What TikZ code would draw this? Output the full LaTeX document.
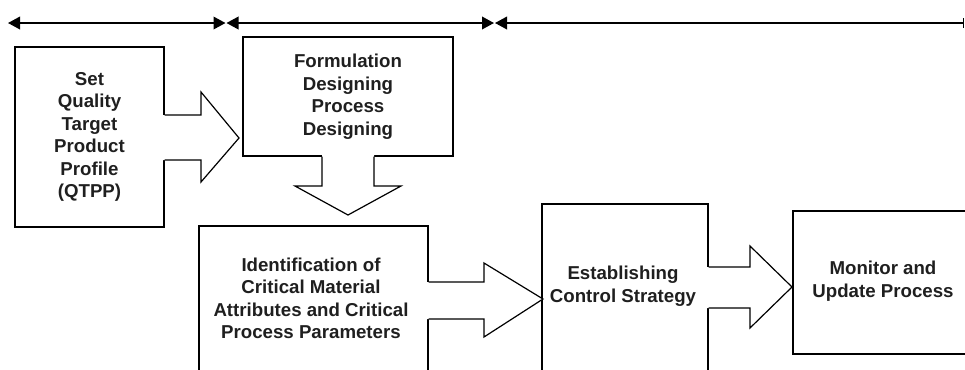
\documentclass[tikz,border=0pt]{standalone}
\usepackage{fontspec}
\setmainfont{Liberation Sans}
\usetikzlibrary{arrows.meta,fit}
\begin{document}
\begin{tikzpicture}[x=0.75pt,y=-0.75pt,
 box/.style={draw, line width=0.9pt, inner sep=0pt},
 lbl/.style={font=\fontsize{14}{16.9}\selectfont\bfseries, align=center, text=black!88, inner sep=0pt},
 blk/.style={line width=0.9pt, line join=miter},
 tri/.style={Triangle[length=9pt,width=9.5pt]},
 span/.style={line width=1.1pt}]
\useasboundingbox (0,0) rectangle (965,369);
\clip (0,0) rectangle (965,369);
% top spans
\coordinate (s0) at (8,23);
\coordinate (s1) at (225.5,23);
\coordinate (s2) at (226.5,23);
\coordinate (s3) at (494,23);
\coordinate (s4) at (495,23);
\coordinate (s5) at (964,23);
\draw[span,{Triangle[length=9pt,width=9.5pt]}-{Triangle[length=9pt,width=9.5pt]}] (s0) -- (s1);
\draw[span,{Triangle[length=9pt,width=9.5pt]}-{Triangle[length=9pt,width=9.5pt]}] (s2) -- (s3);
\draw[span,{Triangle[length=9pt,width=9.5pt]}-{Bar[width=7pt]}] (s4) -- (s5);
% boxes
\node[box, fit={(15,47) (164,227)}] (b1) {};
\node[box, fit={(243,37) (453,156)}] (b2) {};
\node[box, fit={(199,226) (428,420)}] (b3) {};
\node[box, fit={(542,204) (708,420)}] (b4) {};
\node[box, fit={(793,211) (1010,354)}] (b5) {};
% labels
\node[lbl] (t1) at (b1.center) {Set\\Quality\\Target\\Product\\Profile\\(QTPP)};
\node[lbl] (t2) at (b2.center) {Formulation\\Designing\\Process\\Designing};
\node[lbl] (t3) at (311,298.5) {Identification of\\Critical Material\\Attributes and Critical\\Process Parameters};
\node[lbl] (t4) at (623,286) {Establishing\\Control Strategy};
\node[lbl] (t5) at (883,281) {Monitor and\\Update Process};
% block arrows
\fill[white] (163,115) -- (201,115) -- (201,92) -- (239,138) -- (201,182) -- (201,160) -- (163,160) -- cycle;
\draw[blk] (b1.east |- 0,115) -- (201,115) -- (201,92) -- (239,138) -- (201,182) -- (201,160) -- (b1.east |- 0,160);
\fill[white] (322,155) -- (322,186) -- (295,186) -- (348,215) -- (401,186) -- (374,186) -- (374,155) -- cycle;
\draw[blk] (322,0 |- b2.south) -- (322,186) -- (295,186) -- (348,215) -- (401,186) -- (374,186) -- (374,0 |- b2.south);
\fill[white] (427,282) -- (484,282) -- (484,263) -- (543,299) -- (484,337) -- (484,319) -- (427,319) -- cycle;
\draw[blk] (b3.east |- 0,282) -- (484,282) -- (484,263) -- (543,299) -- (484,337) -- (484,319) -- (b3.east |- 0,319);
\fill[white] (707,267) -- (750,267) -- (750,246) -- (792,287) -- (750,328) -- (750,308) -- (707,308) -- cycle;
\draw[blk] (b4.east |- 0,267) -- (750,267) -- (750,246) -- (792,287) -- (750,328) -- (750,308) -- (b4.east |- 0,308);
\end{tikzpicture}
\end{document}
